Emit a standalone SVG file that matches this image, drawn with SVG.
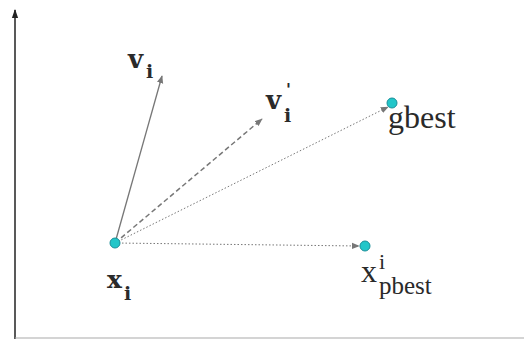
<svg xmlns="http://www.w3.org/2000/svg" width="524" height="339" viewBox="0 0 524 339">
<style>
.lbl{font-family:"Liberation Serif","DejaVu Serif",serif;fill:#2a2a2a}
.b{font-family:"DejaVu Serif","Liberation Serif",serif;font-weight:bold;fill:#2a2a2a}
.dot{fill:#22c6c9;stroke:#1a8f99;stroke-width:1}
.conn{fill:none;stroke:#777}
</style>
<defs>
<marker id="ah" viewBox="0 0 10 10" refX="9" refY="5" markerWidth="8" markerHeight="8" orient="auto" markerUnits="userSpaceOnUse">
<path d="M0,1 L10,5 L0,9 z" fill="#777"/>
</marker>
<marker id="axh" viewBox="0 0 10 10" refX="9" refY="5" markerWidth="9" markerHeight="9" orient="auto" markerUnits="userSpaceOnUse">
<path d="M0,1.5 L10,5 L0,8.5 z" fill="#222"/>
</marker>
</defs>
<rect width="524" height="339" fill="#fff"/>
<g id="axes">
<line x1="15" y1="339" x2="15" y2="10" stroke="#222" stroke-width="1.5" marker-end="url(#axh)"/>
<line x1="15" y1="338" x2="524" y2="338" stroke="#aaa" stroke-width="1.2"/>
</g>
<g id="connectors">
<line class="conn" x1="115" y1="243" x2="162" y2="76" stroke-width="1.3" marker-end="url(#ah)"/>
<line class="conn" x1="115" y1="243" x2="262" y2="119" stroke-width="1.5" stroke-dasharray="5,3" marker-end="url(#ah)"/>
<line class="conn" x1="115" y1="243" x2="388" y2="107" stroke-width="1" stroke-dasharray="1.5,2" marker-end="url(#ah)"/>
<line class="conn" x1="115" y1="243" x2="359" y2="246" stroke-width="1" stroke-dasharray="1.5,2" marker-end="url(#ah)"/>
</g>
<g id="xi">
<circle class="dot" cx="115" cy="243" r="5"/>
<text class="b" x="107" y="288" font-size="25">x</text>
<text class="b" x="124" y="300" font-size="19">i</text>
</g>
<g id="vi">
<text class="b" x="128" y="68" font-size="26">v</text>
<text class="b" x="146" y="78" font-size="19">i</text>
</g>
<g id="vi-prime">
<text class="b" x="266" y="109" font-size="26">v</text>
<text class="b" x="284" y="122" font-size="19">i</text>
<text class="b" x="286" y="95" font-size="16">'</text>
</g>
<g id="gbest">
<circle class="dot" cx="392" cy="103" r="5"/>
<text class="lbl" x="388" y="128" font-size="32">gbest</text>
</g>
<g id="pbest">
<circle class="dot" cx="365" cy="246" r="5"/>
<text class="lbl" x="361" y="282" font-size="32">x</text>
<text class="lbl" x="379" y="269" font-size="22">i</text>
<text class="lbl" x="379" y="294" font-size="25">pbest</text>
</g>
</svg>
